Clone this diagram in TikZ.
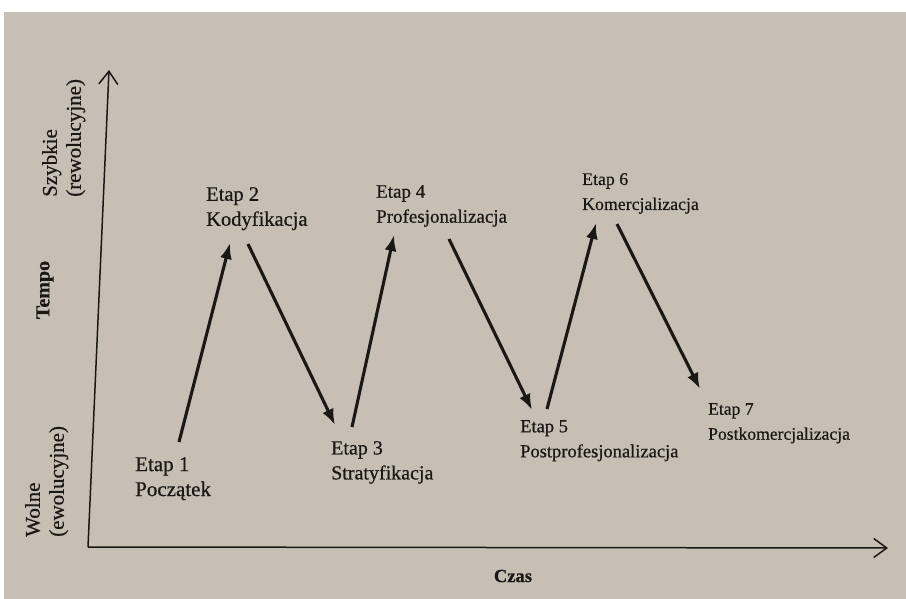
\documentclass[tikz,border=0pt]{standalone}
\usepackage{fontspec}
\setmainfont{Liberation Serif}[FakeBold=0.6]
\usetikzlibrary{arrows.meta}
\definecolor{paper}{RGB}{199,191,179}
\definecolor{ink}{RGB}{26,24,22}
\begin{document}
\begin{tikzpicture}[x=1pt,y=-1pt,
  stage/.style={anchor=north west, inner sep=0pt, align=left, text=ink},
  fs/.style={font=\fontsize{#1}{25}\selectfont},
  axislbl/.style={rotate=90, anchor=north west, inner sep=0pt, align=left, text=ink, font=\fontsize{21}{24}\selectfont},
  axis/.style={draw=ink, line width=1.5pt, -{Straight Barb[length=13pt,width=19pt]}},
  flow/.style={draw=ink, line width=3.1pt, -{Latex[length=16pt,width=12pt]}}]
\useasboundingbox (0,0) rectangle (906,599);
\fill[white] (0,0) rectangle (906,599);
\fill[paper] (4,12) rectangle (906,599);

% axes
\coordinate (O) at (88,547);
\coordinate (Ytop) at (109,70);
\coordinate (Xend) at (888,548);
\draw[axis] (O) -- (Ytop);
\draw[axis] (O) -- (Xend);

% axis labels
\node[axislbl] (fast) at (42,197) {Szybkie\\(rewolucyjne)};
\node[axislbl] (slow) at (25,537) {Wolne\\(ewolucyjne)};
\node[rotate=90, inner sep=0pt, text=ink, font=\fontsize{20}{24}\selectfont\bfseries] (tempo) at (45,290) {Tempo};
\node[inner sep=0pt, text=ink, font=\fontsize{18.5}{22}\selectfont\bfseries] (czas) at (513,576) {Czas};

% stages
\node[stage, fs=21]   (s1) at (135,457) {Etap 1\\Początek};
\node[stage, fs=20.5] (s2) at (206,187) {Etap 2\\Kodyfikacja};
\node[stage, fs=20]   (s3) at (331,441) {Etap 3\\Stratyfikacja};
\node[stage, fs=19]   (s4) at (376,185) {Etap 4\\Profesjonalizacja};
\node[stage, fs=18.5] (s5) at (520,420) {Etap 5\\Postprofesjonalizacja};
\node[stage, fs=17.8] (s6) at (582,173) {Etap 6\\Komercjalizacja};
\node[stage, fs=17.6] (s7) at (708,403) {Etap 7\\Postkomercjalizacja};

% arrow end points
\coordinate (a1s) at (179,442); \coordinate (a1e) at (230,243);
\coordinate (a2s) at (248,244); \coordinate (a2e) at (335,425);
\coordinate (a3s) at (352,427); \coordinate (a3e) at (394,235);
\coordinate (a4s) at (449,239); \coordinate (a4e) at (532,410);
\coordinate (a5s) at (547,409); \coordinate (a5e) at (596,223);
\coordinate (a6s) at (617,224); \coordinate (a6e) at (700,389);

\draw[flow] (a1s) -- (a1e);
\draw[flow] (a2s) -- (a2e);
\draw[flow] (a3s) -- (a3e);
\draw[flow] (a4s) -- (a4e);
\draw[flow] (a5s) -- (a5e);
\draw[flow] (a6s) -- (a6e);
\end{tikzpicture}
\end{document}
